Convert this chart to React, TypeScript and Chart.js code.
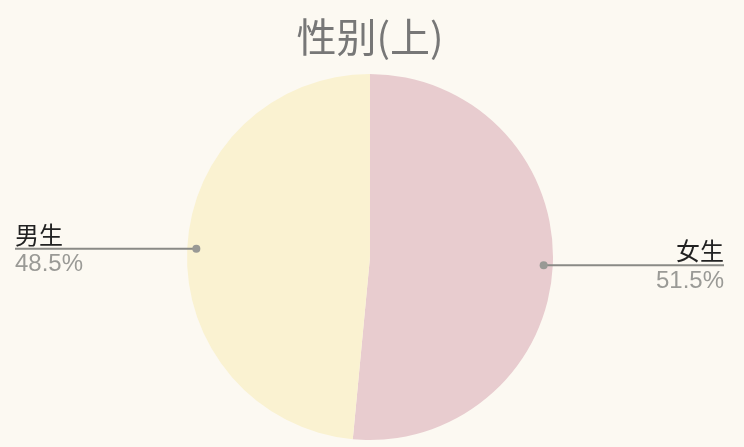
import React, { useEffect, useRef } from "react";
import { Chart, registerables } from "chart.js";

Chart.register(...registerables);

const categories = ["女生", "男生"];
const values = [51.5, 48.5];
const colors = ["#E8CCCF", "#FAF2D1"];
const titleText = "性别(上)";

const BG = "#FCF9F2";

const leaderPlugin = {
  id: "leaderLabels",
  beforeDraw(chart: any) {
    const ctx = chart.ctx;
    ctx.save();
    ctx.fillStyle = BG;
    ctx.fillRect(0, 0, chart.width, chart.height);
    ctx.restore();
  },
  afterDatasetsDraw(chart: any) {
    const ctx = chart.ctx;
    const meta = chart.getDatasetMeta(0);
    const total = values.reduce((a, b) => a + b, 0);
    meta.data.forEach((arc: any, i: number) => {
      const { x, y, startAngle, endAngle, outerRadius } = arc.getProps(
        ["x", "y", "startAngle", "endAngle", "outerRadius"],
        true
      );
      const mid = (startAngle + endAngle) / 2;
      const r = outerRadius * 0.95;
      const px = x + Math.cos(mid) * r;
      const py = y + Math.sin(mid) * r;
      const right = Math.cos(mid) >= 0;
      const endX = right ? chart.width - 20 : 15;
      ctx.save();
      ctx.strokeStyle = "#8a8a86";
      ctx.lineWidth = 2;
      ctx.beginPath();
      ctx.moveTo(px, py);
      ctx.lineTo(endX, py);
      ctx.stroke();
      ctx.fillStyle = "#999995";
      ctx.beginPath();
      ctx.arc(px, py, 4, 0, Math.PI * 2);
      ctx.fill();
      ctx.textAlign = right ? "right" : "left";
      ctx.fillStyle = "#222222";
      ctx.font = '24px "Noto Sans CJK SC", sans-serif';
      ctx.textBaseline = "alphabetic";
      ctx.fillText(categories[i], endX, py - 5);
      ctx.fillStyle = "#9a9a96";
      ctx.font = '24px "Liberation Sans", Arial, sans-serif';
      ctx.textBaseline = "top";
      const pct = ((values[i] / total) * 100).toFixed(1) + "%";
      ctx.fillText(pct, endX, py + 4);
      ctx.restore();
    });
  },
};

export default function App() {
  const ref = useRef<HTMLCanvasElement | null>(null);
  useEffect(() => {
    document.body.style.margin = "0";
    document.body.style.background = BG;
    const chart = new Chart(ref.current!, {
      type: "pie",
      data: {
        labels: categories,
        datasets: [
          {
            data: values,
            backgroundColor: colors,
            borderWidth: 0,
          },
        ],
      },
      options: {
        animation: false,
        responsive: false,
        layout: { padding: { top: 0, bottom: 7, left: 0, right: 4 } },
        plugins: {
          legend: { display: false },
          tooltip: { enabled: false },
          title: {
            display: true,
            text: titleText,
            color: "#777777",
            font: { size: 40, family: '"Noto Sans CJK SC", sans-serif', weight: "normal" },
            padding: { top: 13, bottom: 13 },
          },
        },
      },
      plugins: [leaderPlugin],
    });
    return () => chart.destroy();
  }, []);
  return (
    <div style={{ position: "fixed", left: 0, top: 0, width: 744, height: 447, background: BG }}>
      <canvas ref={ref} width={744} height={447} style={{ width: 744, height: 447 }} />
    </div>
  );
}
